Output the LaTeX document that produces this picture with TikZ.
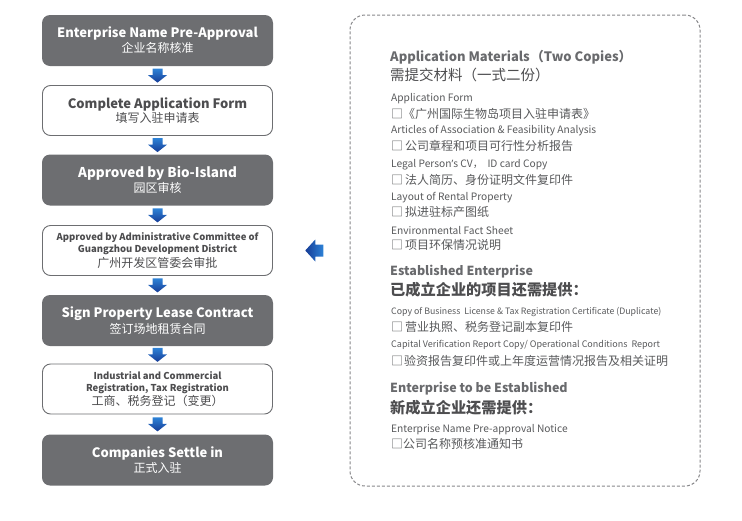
\documentclass[tikz,border=0pt]{standalone}
\usepackage{fontspec}
\setmainfont{Noto Sans CJK SC}
\newfontfamily\latinquote{Noto Sans}
\usetikzlibrary{calc}
\definecolor{boxgray}{RGB}{109,110,113}
\definecolor{txtgray}{RGB}{77,77,79}
\definecolor{itemgray}{RGB}{88,89,91}
\definecolor{headgray}{RGB}{105,106,109}
\definecolor{arrowdark}{RGB}{22,60,150}
\definecolor{arrowlight}{RGB}{45,130,215}
\definecolor{dashgray}{RGB}{135,135,138}
\newcommand\flowdown[2]{%
  \begin{scope}[shift={($(#1.south)!0.5!(#2.north)$)}]
    \shade[top color=arrowlight,bottom color=arrowdark]
      (-5,-7) -- (5,-7) -- (5,-0.5) -- (9.5,-0.5) -- (0,7) -- (-9.5,-0.5) -- (-5,-0.5) -- cycle;
  \end{scope}}
\begin{document}
\begin{tikzpicture}[x=1pt,y=-1pt,
  stepdark/.style={rectangle, rounded corners=8pt, fill=boxgray, text=white,
    minimum width=231pt, minimum height=51pt, align=center, inner sep=0pt},
  steplight/.style={rectangle, rounded corners=8pt, draw=boxgray, line width=0.9pt,
    fill=white, text=txtgray, minimum width=230pt, minimum height=50pt, align=center, inner sep=0pt},
  itemen/.style={anchor=west, inner sep=0pt, text=itemgray, font=\fontsize{10.2}{11}\selectfont},
  itemzh/.style={anchor=west, inner sep=0pt, text=itemgray, font=\fontsize{12}{14}\selectfont},
  heading/.style={anchor=west, inner sep=0pt, text=headgray, font=\fontsize{12.5}{15}\selectfont\bfseries},
  headzh/.style={anchor=west, inner sep=0pt, text=txtgray, font=\fontsize{14.5}{17}\selectfont},
  headzhb/.style={anchor=west, inner sep=0pt, text=txtgray, font=\fontsize{15.2}{17}\selectfont\bfseries},
]
\useasboundingbox (0,0) rectangle (742,520);

% left flow
\node[stepdark] (b1) at (157.5,40.5) {{\fontsize{13}{15}\selectfont\bfseries Enterprise Name Pre-Approval}\\[1pt]{\fontsize{12}{13}\selectfont 企业名称核准}};
\node[steplight] (b2) at (157.5,110.5) {{\fontsize{13}{15}\selectfont\bfseries Complete Application Form}\\[1pt]{\fontsize{12}{13}\selectfont 填写入驻申请表}};
\node[stepdark] (b3) at (157.5,180) {{\fontsize{13.5}{15}\selectfont\bfseries Approved by Bio-Island}\\[1pt]{\fontsize{12}{13}\selectfont 园区审核}};
\node[steplight] (b4) at (157.5,250.5) {{\fontsize{9.5}{10}\selectfont\bfseries Approved by Administrative Committee  of}\\{\fontsize{9.5}{10}\selectfont\bfseries Guangzhou Development District}\\[1pt]{\fontsize{12}{14}\selectfont 广州开发区管委会审批}};
\node[stepdark] (b5) at (157.5,320.5) {{\fontsize{13}{15}\selectfont\bfseries Sign Property Lease Contract}\\[1pt]{\fontsize{12}{13}\selectfont 签订场地租赁合同}};
\node[steplight] (b6) at (157.5,389) {{\fontsize{9.5}{10}\selectfont\bfseries Industrial and Commercial}\\{\fontsize{9.5}{10}\selectfont\bfseries Registration, Tax Registration}\\[1pt]{\fontsize{12}{14}\selectfont 工商、税务登记（变更）}};
\node[stepdark] (b7) at (157.5,460) {{\fontsize{13}{15}\selectfont\bfseries Companies Settle in}\\[1pt]{\fontsize{12}{13}\selectfont 正式入驻}};

\flowdown{b1}{b2}
\flowdown{b2}{b3}
\flowdown{b3}{b4}
\flowdown{b4}{b5}
\flowdown{b5}{b6}
\flowdown{b6}{b7}

% materials box
\node[draw=dashgray, line width=1pt, dash pattern=on 3pt off 2pt, rounded corners=15pt,
  minimum width=350pt, minimum height=471pt, inner sep=0pt] (mat) at (525,250.5) {};

% left arrow
\begin{scope}[shift={($(b4.east)!0.54!(mat.west)$)}]
  \shade[left color=arrowdark,right color=arrowlight]
    (-9,0) -- (1,-11) -- (1,-6) -- (9,-6) -- (9,6) -- (1,6) -- (1,11) -- cycle;
\end{scope}

% texts
\node[heading, font=\fontsize{13}{15}\selectfont\bfseries] (h1) at (390,57) {Application Materials\kern1pt（Two Copies）};
\node[headzh] (h1z) at (390,75) {需提交材料（一式二份）};
\node[itemen] (i1) at (391,99) {Application Form};
\node[itemzh] (i1z) at (391,114) {□《广州国际生物岛项目入驻申请表》};
\node[itemen] (i2) at (391,131) {Articles of Association \& Feasibility Analysis};
\node[itemzh] (i2z) at (391,146) {□\kern2pt 公司章程和项目可行性分析报告};
\node[itemen] (i3) at (391,165) {Legal Person{\latinquote ’}s CV，\ \ ID card Copy};
\node[itemzh] (i3z) at (391,180) {□\kern2pt 法人简历、身份证明文件复印件};
\node[itemen] (i4) at (391,198) {Layout of Rental Property};
\node[itemzh] (i4z) at (391,212) {□\kern2pt 拟进驻标产图纸};
\node[itemen] (i5) at (391,231) {Environmental Fact Sheet};
\node[itemzh] (i5z) at (391,245) {□\kern2pt 项目环保情况说明};

\node[heading] (h2) at (390,272) {Established Enterprise};
\node[headzhb] (h2z) at (390,290) {已成立企业的项目还需提供：};
\node[itemen, font=\fontsize{8.8}{10}\selectfont] (i6) at (391,312) {Copy of Business\ \ License \& Tax Registration Certificate (Duplicate)};
\node[itemzh] (i6z) at (391,327) {□\kern2pt 营业执照、税务登记副本复印件};
\node[itemen, font=\fontsize{9}{10}\selectfont] (i7) at (391,345) {Capital Verification Report Copy/ Operational Conditions\ \ Report};
\node[itemzh] (i7z) at (391,361) {□\kern1pt 验资报告复印件或上年度运营情况报告及相关证明};

\node[heading] (h3) at (390,389) {Enterprise to be Established};
\node[headzhb] (h3z) at (390,408) {新成立企业还需提供：};
\node[itemen] (i8) at (391,430) {Enterprise Name Pre-approval Notice};
\node[itemzh] (i8z) at (391,444) {□公司名称预核准通知书};
\end{tikzpicture}
\end{document}
